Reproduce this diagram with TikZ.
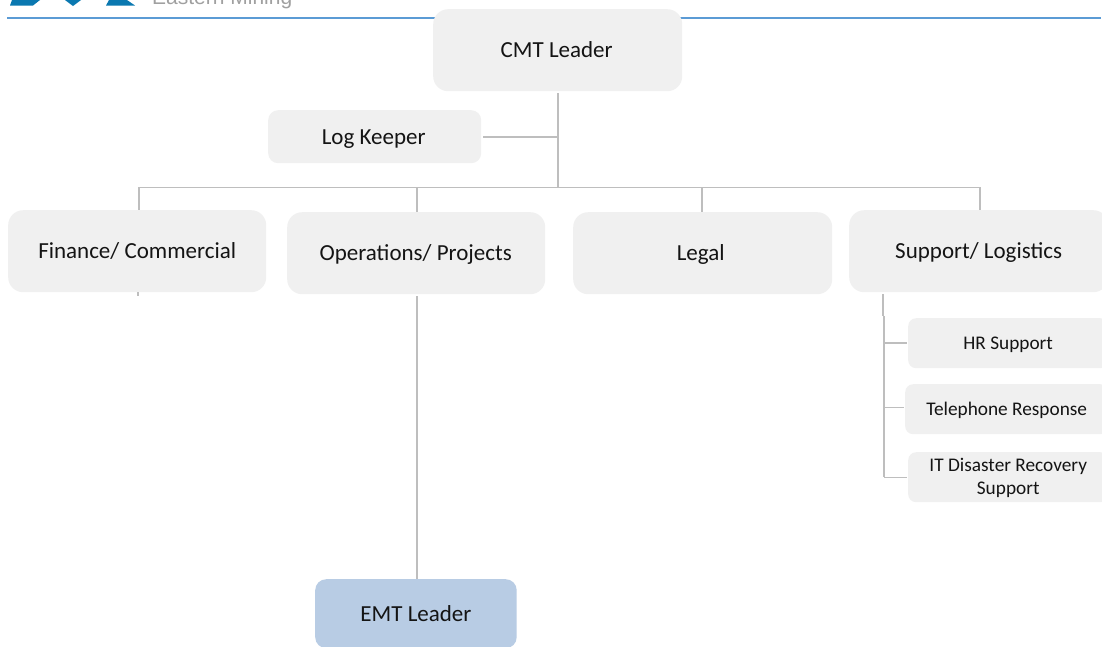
\documentclass[tikz,border=0pt]{standalone}
\usepackage{fontspec}
\setmainfont{Carlito}
\newfontfamily\logofont{Liberation Sans}
\definecolor{boxgray}{HTML}{F0F0F0}
\definecolor{emtblue}{HTML}{B8CCE4}
\definecolor{linegray}{HTML}{BEBEBE}
\definecolor{headrule}{HTML}{5B9BD5}
\definecolor{logoblue}{HTML}{0A78B0}
\definecolor{logogray}{HTML}{A0A0A0}
\definecolor{textc}{HTML}{141414}
\tikzset{
  x=1pt,y=-1pt,
  orgbox/.style={fill=boxgray,rounded corners=15pt,inner sep=0pt,text=textc,align=center,
    text height=14.6pt,text depth=0pt,font=\fontsize{23}{27}\selectfont},
  logbox/.style={orgbox,rounded corners=10pt},
  emtbox/.style={orgbox,fill=emtblue,rounded corners=11pt},
  smallbox/.style={fill=boxgray,rounded corners=8pt,inner sep=0pt,text=textc,align=center,
    text height=12pt,text depth=0pt,font=\fontsize{19.3}{23}\selectfont},
  twolines/.style={text height=35pt},
  conn/.style={draw=linegray,line width=1.6pt},
  gapstart/.style={shorten <=2pt},
  gapend/.style={shorten >=1.5pt},
}
\newcommand{\boxat}[7]{\node[#1,minimum width=#6pt-#4pt,minimum height=#7pt-#5pt,anchor=north west] (#2) at (#4,#5) {#3};}
\begin{document}
\begin{tikzpicture}
\useasboundingbox (0,0) rectangle (1102,646);
\fill[white] (0,0) rectangle (1102,646);
% header
\coordinate (ruleL) at (7,18);
\coordinate (ruleR) at (1101,18);
\draw[headrule,line width=1.1pt] (ruleL) -- (ruleR);
\fill[logoblue] (12,0) -- (40,0) -- (33,5.5) -- (10,5.5) -- cycle;
\fill[logoblue] (65,0) -- (81,0) -- (73,6) -- cycle;
\fill[logoblue] (109,0) -- (127,0) -- (135,5.5) -- (106,5.5) -- cycle;
\node[anchor=base west,inner sep=0pt,text=logogray,font=\logofont\fontsize{21}{24}\selectfont] (logotext) at (152,4) {Eastern Mining};
% connector junctions
\coordinate (trunk) at (557.7,187.3);
\coordinate (logj) at (557.7,136.8);
\coordinate (finT) at (139,187.3);
\coordinate (opsT) at (417,187.3);
\coordinate (legT) at (702,187.3);
\coordinate (supT) at (980,187.3);
\coordinate (stub) at (138,296);
\coordinate (supA) at (882.8,316);
\coordinate (supB) at (884.2,316);
\coordinate (hrj) at (884.2,343);
\coordinate (telj) at (884.2,407.5);
\coordinate (itj) at (884.2,477.3);
% boxes
\boxat{orgbox}{cmt}{\hspace*{-2pt}CMT Leader}{433}{9}{682}{91}
\boxat{logbox}{log}{\hspace*{-2pt}Log Keeper}{268}{110}{481}{163}
\boxat{orgbox}{fin}{Finance/ Commercial}{8}{210}{266}{292}
\boxat{orgbox}{ops}{\hspace*{-1pt}Operations/ Projects}{287}{212}{545}{294}
\boxat{orgbox}{leg}{\hspace*{-4pt}Legal}{573}{212}{832}{294}
\boxat{orgbox}{sup}{Support/ Logistics}{849}{210}{1108}{292}
\boxat{smallbox}{hr}{HR Support}{908}{318}{1108}{368}
\boxat{smallbox}{tel}{Telephone Response}{905}{384}{1108}{434}
\boxat{smallbox,twolines}{it}{IT Disaster Recovery\\Support}{908}{452}{1108}{502}
\boxat{emtbox}{emt}{EMT Leader}{315}{579}{516.5}{648}
% connectors
\draw[conn,gapstart] (cmt.south -| trunk) -- (trunk);
\draw[conn,gapstart] (log.east |- logj) -- (logj);
\draw[conn] (finT) -- (supT);
\draw[conn] (finT) -- (finT |- fin.north);
\draw[conn] (opsT) -- (opsT |- ops.north);
\draw[conn] (legT) -- (legT |- leg.north);
\draw[conn] (supT) -- (supT |- sup.north);
\draw[conn] (fin.south -| stub) -- (stub);
\draw[conn,gapstart] (ops.south -| opsT) -- (opsT |- emt.north);
\draw[conn,gapstart] (sup.south -| supA) -- (supA);
\draw[conn] (supB) -- (itj);
\draw[conn,gapend] (hrj) -- (hr.west |- hrj);
\draw[conn,gapend] (telj) -- (tel.west |- telj);
\draw[conn,gapend] (itj) -- (it.west |- itj);
\end{tikzpicture}
\end{document}
